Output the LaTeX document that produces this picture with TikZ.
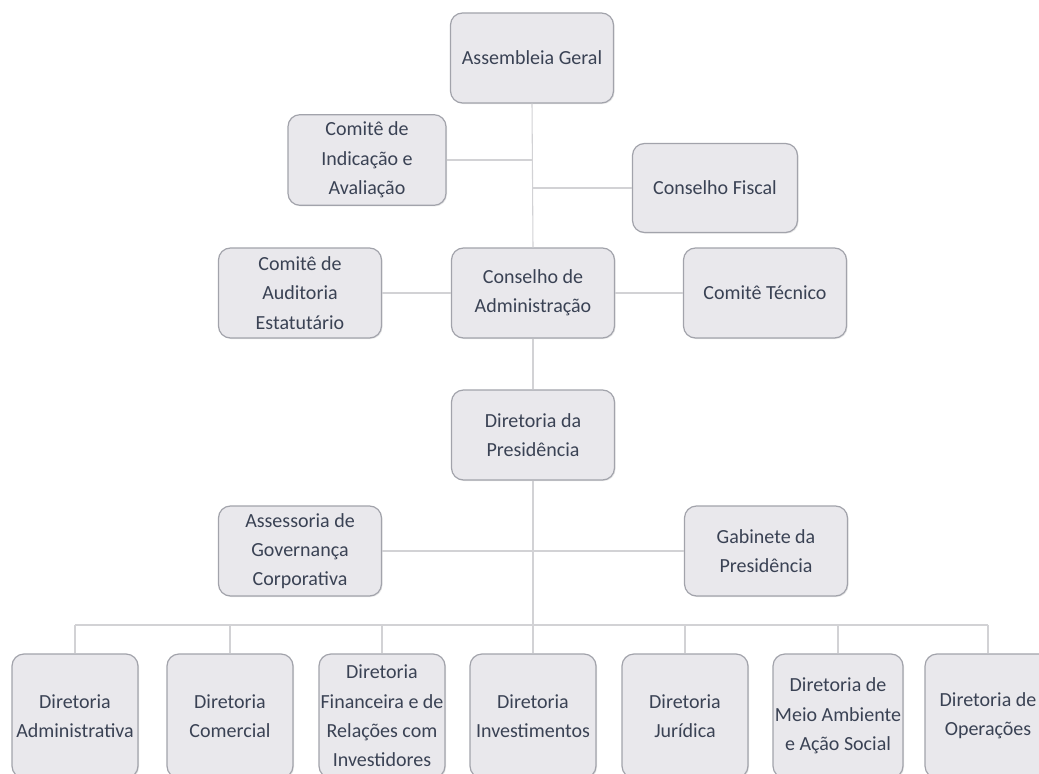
\documentclass[tikz,border=0pt]{standalone}
\usepackage{fontspec}
\setmainfont{Carlito}
\usetikzlibrary{shadows}
\definecolor{boxfill}{HTML}{E9E8EC}
\definecolor{boxline}{HTML}{A2A3AB}
\definecolor{txt}{HTML}{3A4254}
\definecolor{conn}{HTML}{D2D2D5}
\begin{document}
\begin{tikzpicture}[x=0.75pt,y=-0.75pt,
  box/.style={draw=boxline, line width=0.9pt, fill=boxfill, rounded corners=9pt,
    align=center, inner xsep=0pt, inner ysep=0pt, text=txt,
    font=\fontsize{15pt}{22pt}\selectfont,
    minimum width=122.25pt, minimum height=67.5pt,
    drop shadow={opacity=0.18, shadow xshift=0.8pt, shadow yshift=-0.8pt}},
  low/.style={box, minimum width=94.5pt, minimum height=93pt},
  link/.style={draw=conn, line width=0.8pt}]
\fill[white] (0,0) rectangle (1039,774);
\clip (0,0) rectangle (1039,774);

\node[box] (ag) at (532,58) {Assembleia Geral};
\node[box, minimum width=118.5pt, minimum height=68pt] (ci) at (367,160) {Comitê de\\Indicação e\\Avaliação};
\node[box, minimum width=123.75pt, minimum height=66.75pt] (cf) at (715,188) {Conselho Fiscal};
\node[box] (cae) at (300,293) {Comitê de\\Auditoria\\Estatutário};
\node[box] (ca) at (533,293) {Conselho de\\Administração};
\node[box] (ct) at (765,293) {Comitê Técnico};
\node[box] (dp) at (533,435) {Diretoria da\\Presidência};
\node[box] (ass) at (300,551) {Assessoria de\\Governança\\Corporativa};
\node[box] (gab) at (766,551) {Gabinete da\\Presidência};

\node[low] (d1) at (75,716) {Diretoria\\Administrativa};
\node[low] (d2) at (230,716) {Diretoria\\Comercial};
\node[low] (d3) at (382,716) {Diretoria\\Financeira e de\\Relações com\\Investidores};
\node[low] (d4) at (533,716) {Diretoria\\Investimentos};
\node[low] (d5) at (685,716) {Diretoria\\Jurídica};
\node[low, minimum width=97.5pt] (d6) at (838,716) {Diretoria de\\Meio Ambiente\\e Ação Social};
\node[low] (d7) at (988,716) {Diretoria de\\Operações};

\coordinate (bus) at (533,625);

\draw[link] (ag.south) -- (ca.north);
\draw[link] (ca.south) -- (dp.north);
\draw[link] (dp.south) -- (bus);
\draw[link] (ci.east) -- (ci.east -| ag.south);
\draw[link] (cf.west) -- (cf.west -| ag.south);
\draw[link] (cae.east) -- (ca.west);
\draw[link] (ca.east) -- (ct.west);
\draw[link] (ass.east) -- (gab.west);
\draw[link] (d1.north |- bus) -- (d7.north |- bus);
\foreach \n in {d1,d2,d3,d4,d5,d6,d7} {\draw[link] (\n.north) -- (\n.north |- bus);}
\end{tikzpicture}
\end{document}
